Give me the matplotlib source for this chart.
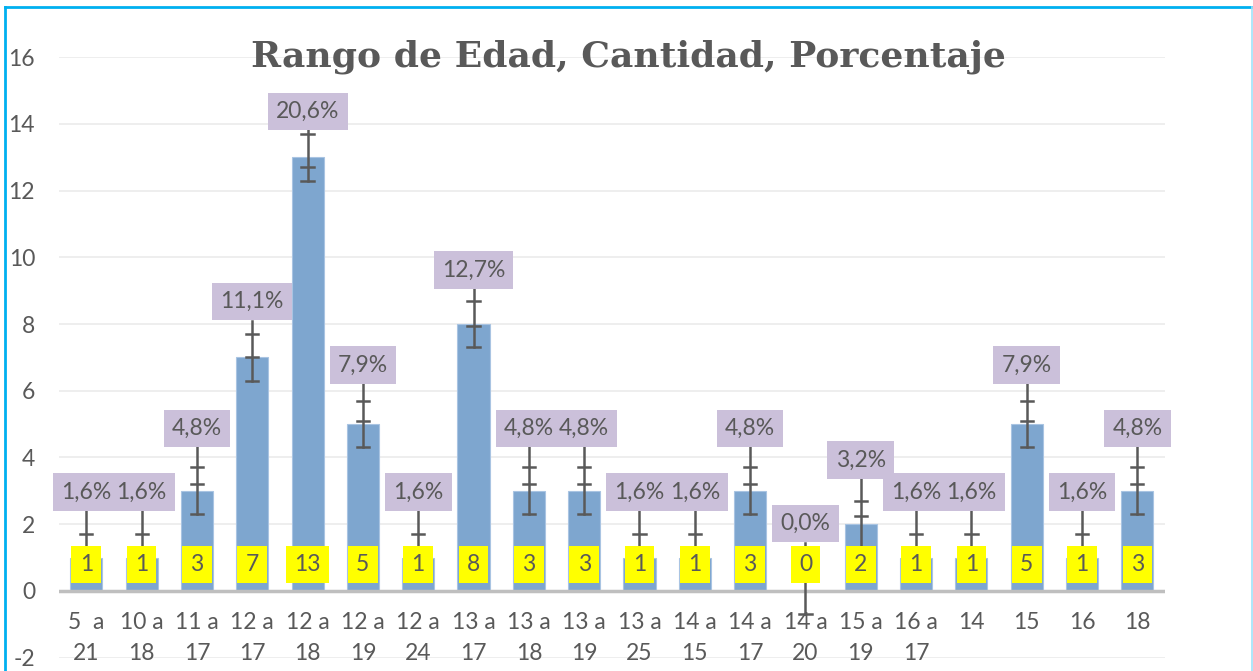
import matplotlib
matplotlib.use('Agg')
import matplotlib.pyplot as plt
from matplotlib.lines import Line2D
import numpy as np

# datos
rangos = ['5  a\n21', '10 a\n18', '11 a\n17', '12 a\n17', '12 a\n18', '12 a\n19', '12 a\n24',
          '13 a\n17', '13 a\n18', '13 a\n19', '13 a\n25', '14 a\n15', '14 a\n17', '14 a\n20',
          '15 a\n19', '16 a\n17', '14', '15', '16', '18']
cantidad = [1, 1, 3, 7, 13, 5, 1, 8, 3, 3, 1, 1, 3, 0, 2, 1, 1, 5, 1, 3]
porcentaje = ['1,6%', '1,6%', '4,8%', '11,1%', '20,6%', '7,9%', '1,6%', '12,7%', '4,8%', '4,8%',
              '1,6%', '1,6%', '4,8%', '0,0%', '3,2%', '1,6%', '1,6%', '7,9%', '1,6%', '4,8%']
yticks = [-2, 0, 2, 4, 6, 8, 10, 12, 14, 16]

gris = '#595959'
fuente = 'Lato'
fs = 16.5

fig = plt.figure(figsize=(12.53, 6.71), dpi=100)
ax = fig.add_axes([0.0468, 0.0198, 0.8830, 0.8952])

x = np.arange(len(cantidad))
v = np.array(cantidad, dtype=float)

ax.bar(x, v, width=0.58, color='#7EA6CF', edgecolor='#A9C4E2', linewidth=0.8, zorder=2)

# barras de error
arriba = 0.95 * v + 1.45
for xi, vi, top in zip(x, v, arriba):
    ax.plot([xi, xi], [vi - 0.7, top], color=gris, lw=1.8, zorder=3)
    for yc in (vi - 0.7, vi + 0.7, 0.95 * vi + 0.35):
        ax.plot([xi - 0.11, xi + 0.11], [yc, yc], color=gris, lw=1.8, zorder=3)

# etiquetas: primero las cajas, luego el texto encima
for capa, z in (('caja', 4), ('texto', 5)):
    for xi, top, c, p in zip(x, arriba, cantidad, porcentaje):
        for yy, s, fc in ((0.79, str(c), '#FFFF00'), (top + 0.57, p, '#CBC0DA')):
            if capa == 'caja':
                ax.text(xi, yy, s, ha='center', va='center', fontsize=fs, color='none',
                        family=fuente, zorder=z,
                        bbox=dict(boxstyle='square,pad=0.36', fc=fc, ec='none'))
            else:
                ax.text(xi, yy, s, ha='center', va='center', fontsize=fs, color=gris,
                        family=fuente, zorder=z)

for xi, r in zip(x, rangos):
    ax.text(xi, -0.62, r, ha='center', va='top', fontsize=fs,
            color=gris, family=fuente, linespacing=1.6, zorder=1)

ax.set_xlim(-0.5, len(cantidad) - 0.5)
ax.set_ylim(-2, 16)
ax.set_yticks(yticks)
ax.set_yticklabels([str(t) for t in yticks], fontsize=fs, color=gris, family=fuente)
ax.tick_params(axis='y', length=0, pad=17)
ax.set_xticks([])
ax.grid(axis='y', color='#EDEDED', lw=1.3, zorder=0)
ax.axhline(0, color='#BFBFBF', lw=2.5, zorder=2.5)
for s in ax.spines.values():
    s.set_visible(False)
ax.set_axisbelow(True)

ax.text(0.515, 1.0, 'Rango de Edad, Cantidad, Porcentaje', transform=ax.transAxes,
        ha='center', va='center', fontsize=26, fontweight='bold', color=gris,
        family='DejaVu Serif', zorder=6)

# marco
fig.add_artist(Line2D([0.0036, 1], [0.9896, 0.9896], color='#00B0F0', lw=2))
fig.add_artist(Line2D([0.0036, 0.0036], [0, 0.9896], color='#00B0F0', lw=2))
fig.add_artist(Line2D([0.9992, 0.9992], [0, 0.9896], color='#9FE3FA', lw=1.2))

fig.savefig('out.png', dpi=100)
